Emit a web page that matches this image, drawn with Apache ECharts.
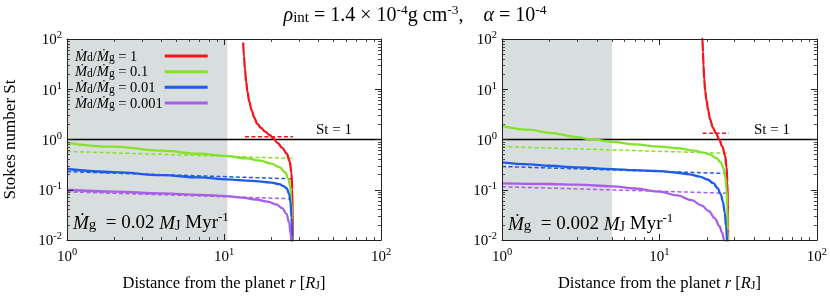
<!DOCTYPE html>
<html>
<head>
<meta charset="utf-8">
<script src="https://cdn.jsdelivr.net/npm/echarts@6/dist/echarts.min.js"></script>
<style>html,body{margin:0;padding:0;background:#fff}#c{width:830px;height:297px}</style>
</head>
<body>
<div id="c"></div>
<script>
// ---------- data ----------
const xMajor = [1, 10, 100];
const xMinor = [2,3,4,5,6,7,8,9,20,30,40,50,60,70,80,90];
const yMajor = [0.01, 0.1, 1, 10, 100];
const yMinor = [0.02,0.03,0.04,0.05,0.06,0.07,0.08,0.09,0.2,0.3,0.4,0.5,0.6,0.7,0.8,0.9,2,3,4,5,6,7,8,9,20,30,40,50,60,70,80,90];
const ratioLabels = ['1', '0.1', '0.01', '0.001'];
const shadeL = [1, 10.5];
const shadeR = [1, 5.0];
const stOneLine = [1, 100];

// left panel: Mg = 0.02 MJ/Myr
const rRedL = [13.25, 13.4, 13.6, 13.85, 14.1, 14.5, 15, 15.6, 16.3, 17.2, 18.3, 19.5, 20.6, 21.9, 23.5, 25.1, 26.2, 26.9, 27.2, 27.35, 27.45];
const stRedL = [85, 45, 25, 14, 9, 5.6, 3.8, 2.7, 2.05, 1.7, 1.43, 1.23, 1.06, 0.86, 0.68, 0.52, 0.37, 0.22, 0.1, 0.03, 0.005];
const rGreenL = [1, 2, 4, 7, 10.4, 14, 17, 20, 22.5, 24.5, 25.7, 26.4, 26.9, 27.1, 27.25];
const stGreenL = [0.86, 0.72, 0.598, 0.52, 0.468, 0.42, 0.38, 0.33, 0.283, 0.224, 0.166, 0.117, 0.055, 0.025, 0.008];
const rBlueL = [1, 2, 4, 7, 10.4, 15, 20, 22.5, 24, 25.1, 26, 26.5, 26.9, 27.15, 27.3];
const stBlueL = [0.259, 0.225, 0.196, 0.176, 0.161, 0.150, 0.139, 0.129, 0.118, 0.106, 0.082, 0.057, 0.028, 0.011, 0.005];
const rPurpleL = [1, 2, 4, 7, 10.4, 13, 16, 19, 21.5, 23.5, 25, 26, 26.6, 27];
const stPurpleL = [0.100, 0.092, 0.0845, 0.079, 0.075, 0.070, 0.064, 0.058, 0.051, 0.043, 0.033, 0.022, 0.013, 0.006];
const rDashRedL = [13.6, 27.5], stDashRedL = [1.14, 1.14];
const rDashL = [1, 27.5];
const stDashGreenL = [0.58, 0.42];
const stDashBlueL = [0.229, 0.165];
const stDashPurpleL = [0.091, 0.066];

// right panel: Mg = 0.002 MJ/Myr
const rRedR = [18.6, 18.75, 18.9, 19.05, 19.25, 19.5, 19.9, 20.4, 21.0, 21.8, 22.8, 23.9, 25.1, 26.1, 26.7, 27.0, 27.2, 27.3];
const stRedR = [150, 100, 55, 30, 16, 9.5, 6, 3.8, 2.5, 1.75, 1.36, 1.03, 0.72, 0.48, 0.28, 0.14, 0.05, 0.005];
const rGreenR = [1, 1.5, 2, 3, 3.6, 5, 7, 10, 13, 16.6, 19, 21, 23, 24.5, 25.5, 26.2, 26.7, 27.0, 27.2, 27.3];
const stGreenR = [1.86, 1.55, 1.36, 1.12, 1.02, 0.90, 0.80, 0.72, 0.67, 0.60, 0.55, 0.50, 0.43, 0.35, 0.27, 0.18, 0.10, 0.045, 0.015, 0.005];
const rBlueR = [1, 1.5, 2, 3, 5, 7, 10, 13, 15.5, 18, 20.2, 22, 23.4, 24.5, 25.3, 26, 26.5, 26.9];
const stBlueR = [0.35, 0.32, 0.30, 0.28, 0.258, 0.246, 0.235, 0.218, 0.203, 0.183, 0.16, 0.135, 0.108, 0.082, 0.058, 0.035, 0.019, 0.008];
const rPurpleR = [1, 2, 3, 5, 7, 10, 13, 16, 18.5, 20.5, 22.5, 24, 25, 25.8, 26.3];
const stPurpleR = [0.134, 0.130, 0.126, 0.117, 0.106, 0.092, 0.077, 0.062, 0.049, 0.038, 0.027, 0.019, 0.014, 0.0098, 0.007];
const rDashRedR = [18.8, 27.7], stDashRedR = [1.33, 1.33];
const rDashR = [1, 27.7];
const stDashGreenR = [0.72, 0.53];
const stDashBlueR = [0.29, 0.21];
const stDashPurpleR = [0.115, 0.085];

// ---------- styling ----------
const F = 'Liberation Serif';
const C = {red: '#f5141b', green: '#84e22a', blue: '#1e5ce6', purple: '#a95ee8'};
const names = ratioLabels.map(v => 'ratio ' + v);

const tickRich = {
  b: {fontFamily: F, fontSize: 15, color: '#000', verticalAlign: 'bottom'},
  s: {fontFamily: F, fontSize: 10.5, color: '#000', verticalAlign: 'bottom', padding: [0, 0, 7, 0]}
};
function powLabel(v) {
  const e = Math.round(Math.log10(v));
  return '{b|10}{s|' + e + '}';
}
const xNameRich = {
  a: {fontFamily: F, fontSize: 16.5, color: '#000', verticalAlign: 'bottom'},
  i: {fontFamily: F, fontSize: 16.5, fontStyle: 'italic', color: '#000', verticalAlign: 'bottom'},
  j: {fontFamily: F, fontSize: 12, color: '#000', verticalAlign: 'bottom'}
};
const xName = '{a|Distance from the planet }{i|r}{a| [}{i|R}{j|J}{a|]}';

function xAxesFor(gi) {
  const base = {gridIndex: gi, type: 'log', logBase: 10, min: 1, max: 100, z: 10, splitLine: {show: false}};
  return [
    Object.assign({}, base, {position: 'bottom',
      axisLine: {show: true, lineStyle: {color: '#222', width: 1}},
      axisTick: {show: true, inside: true, length: 6, customValues: xMajor, lineStyle: {color: '#222'}},
      axisLabel: {show: true, customValues: xMajor, formatter: powLabel, margin: 7, rich: tickRich},
      name: xName, nameLocation: 'middle', nameGap: 35, nameTextStyle: {rich: xNameRich}}),
    Object.assign({}, base, {position: 'top',
      axisLine: {show: true, lineStyle: {color: '#222', width: 1}},
      axisTick: {show: true, inside: true, length: 6, customValues: xMajor, lineStyle: {color: '#222'}},
      axisLabel: {show: false}}),
    Object.assign({}, base, {position: 'bottom',
      axisLine: {show: false},
      axisTick: {show: true, inside: true, length: 3, customValues: xMinor, lineStyle: {color: '#444'}},
      axisLabel: {show: false}}),
    Object.assign({}, base, {position: 'top',
      axisLine: {show: false},
      axisTick: {show: true, inside: true, length: 3, customValues: xMinor, lineStyle: {color: '#444'}},
      axisLabel: {show: false}})
  ];
}
function yAxesFor(gi, withName) {
  const base = {gridIndex: gi, type: 'log', logBase: 10, min: 0.01, max: 100, z: 10, splitLine: {show: false}};
  const main = Object.assign({}, base, {position: 'left',
      axisLine: {show: true, lineStyle: {color: '#222', width: 1}},
      axisTick: {show: true, inside: true, length: 6, customValues: yMajor, lineStyle: {color: '#222'}},
      axisLabel: {show: true, customValues: yMajor, formatter: powLabel, margin: 5, rich: tickRich}});
  if (withName) {
    Object.assign(main, {name: 'Stokes number St', nameLocation: 'middle', nameGap: 48,
      nameTextStyle: {fontFamily: F, fontSize: 17, color: '#000'}});
  }
  return [
    main,
    Object.assign({}, base, {position: 'right',
      axisLine: {show: true, lineStyle: {color: '#222', width: 1}},
      axisTick: {show: true, inside: true, length: 6, customValues: yMajor, lineStyle: {color: '#222'}},
      axisLabel: {show: false}}),
    Object.assign({}, base, {position: 'left',
      axisLine: {show: false},
      axisTick: {show: true, inside: true, length: 3, customValues: yMinor, lineStyle: {color: '#444'}},
      axisLabel: {show: false}}),
    Object.assign({}, base, {position: 'right',
      axisLine: {show: false},
      axisTick: {show: true, inside: true, length: 3, customValues: yMinor, lineStyle: {color: '#444'}},
      axisLabel: {show: false}})
  ];
}

function pairs(rs, sts) { return rs.map((r, i) => [r, sts[i]]); }
function curve(name, rs, sts, color, gi, dashed) {
  return {
    type: 'line', name: name, xAxisIndex: gi * 4, yAxisIndex: gi * 4,
    data: pairs(rs, sts), symbol: 'none', showSymbol: false, silent: true,
    smooth: dashed ? false : 0.4, smoothMonotone: 'x', clip: true,
    lineStyle: {color: color, width: dashed ? 1.5 : 2.3, type: dashed ? [4, 2.5] : 'solid'},
    itemStyle: {color: color}, z: dashed ? 4 : 5
  };
}
function shade(range, gi) {
  return {
    type: 'line', name: 'shade' + gi, xAxisIndex: gi * 4, yAxisIndex: gi * 4, data: [], silent: true, z: 1,
    markArea: {silent: true, itemStyle: {color: '#d8dddd'}, data: [[{xAxis: range[0]}, {xAxis: range[1]}]]}
  };
}
function stOne(gi) {
  return {
    type: 'line', name: 'st1_' + gi, xAxisIndex: gi * 4, yAxisIndex: gi * 4,
    data: stOneLine.map(r => [r, 1]), symbol: 'none', silent: true, z: 3,
    lineStyle: {color: '#000', width: 1.5}
  };
}

const series = [
  shade(shadeL, 0), shade(shadeR, 1), stOne(0), stOne(1),
  curve('dashRedL', rDashRedL, stDashRedL, C.red, 0, true),
  curve('dashGreenL', rDashL, stDashGreenL, C.green, 0, true),
  curve('dashBlueL', rDashL, stDashBlueL, C.blue, 0, true),
  curve('dashPurpleL', rDashL, stDashPurpleL, C.purple, 0, true),
  curve(names[0], rRedL, stRedL, C.red, 0, false),
  curve(names[1], rGreenL, stGreenL, C.green, 0, false),
  curve(names[2], rBlueL, stBlueL, C.blue, 0, false),
  curve(names[3], rPurpleL, stPurpleL, C.purple, 0, false),
  curve('dashRedR', rDashRedR, stDashRedR, C.red, 1, true),
  curve('dashGreenR', rDashR, stDashGreenR, C.green, 1, true),
  curve('dashBlueR', rDashR, stDashBlueR, C.blue, 1, true),
  curve('dashPurpleR', rDashR, stDashPurpleR, C.purple, 1, true),
  curve(names[0], rRedR, stRedR, C.red, 1, false),
  curve(names[1], rGreenR, stGreenR, C.green, 1, false),
  curve(names[2], rBlueR, stBlueR, C.blue, 1, false),
  curve(names[3], rPurpleR, stPurpleR, C.purple, 1, false)
];

const LH = 16.7;
const PAD = [6, 0, 0, 0];
const legendRich = {
  m: {fontFamily: F, fontSize: 14.5, fontStyle: 'italic', fontWeight: 'normal', color: '#000', verticalAlign: 'bottom', align: 'left', lineHeight: LH, padding: PAD},
  s: {fontFamily: F, fontSize: 11.5, fontWeight: 'normal', color: '#000', verticalAlign: 'bottom', align: 'left', lineHeight: LH, padding: PAD},
  n: {fontFamily: F, fontSize: 14.5, fontWeight: 'normal', color: '#000', verticalAlign: 'bottom', align: 'left', lineHeight: LH, padding: PAD},
  e: {fontFamily: F, fontSize: 14.5, fontWeight: 'normal', color: '#000', verticalAlign: 'bottom', align: 'left', lineHeight: LH, padding: PAD, width: 45}
};

const annRich = {
  m: {fontFamily: F, fontSize: 19, fontStyle: 'italic', fill: '#000', verticalAlign: 'bottom'},
  g: {fontFamily: F, fontSize: 15, fill: '#000', verticalAlign: 'bottom'},
  n: {fontFamily: F, fontSize: 19, fill: '#000', verticalAlign: 'bottom'},
  j: {fontFamily: F, fontSize: 14, fill: '#000', verticalAlign: 'bottom'},
  s: {fontFamily: F, fontSize: 13, fill: '#000', verticalAlign: 'bottom', padding: [0, 0, 9, 0]}
};
function annText(val) {
  return '{m|\u1E40}{g|g}{n|  = ' + val + ' }{m|M}{j|J}{n| Myr}{s|-1}';
}

const TF = 20;
const titleRich = {
  i: {fontFamily: F, fontSize: TF, fontStyle: 'italic', fontWeight: 'normal', color: '#000', verticalAlign: 'bottom'},
  r: {fontFamily: F, fontSize: 15, fontWeight: 'normal', color: '#000', verticalAlign: 'bottom'},
  n: {fontFamily: F, fontSize: TF, fontWeight: 'normal', color: '#000', verticalAlign: 'bottom'},
  s: {fontFamily: F, fontSize: 13.5, fontWeight: 'normal', color: '#000', verticalAlign: 'bottom', padding: [0, 0, 9, 0]}
};

const option = {
  animation: false,
  backgroundColor: '#fff',
  title: {
    left: 'center', top: -2,
    text: '{i|\u03C1}{r|int}{n| = 1.4 \u00D7 10}{s|-4}{n|g cm}{s|-3}{n|,    }{i|\u03B1}{n| = 10}{s|-4}',
    textStyle: {fontWeight: 'normal', rich: titleRich}
  },
  grid: [
    {left: 67, top: 39, width: 314, height: 201},
    {left: 502, top: 39, width: 316, height: 201}
  ],
  xAxis: xAxesFor(0).concat(xAxesFor(1)),
  yAxis: yAxesFor(0, true).concat(yAxesFor(1, false)),
  legend: {
    data: names, orient: 'vertical', left: 70, top: 38.3, align: 'right',
    icon: 'rect', itemWidth: 43, itemHeight: 3, itemGap: -5.3, selectedMode: false,
    formatter: function (name) {
      const v = name.replace('ratio ', '');
      return '{m|\u1E40}{s|d}{n|/}{m|\u1E40}{s|g}{e| = ' + v + '}';
    },
    textStyle: {fontWeight: 'normal', rich: legendRich}
  },
  graphic: [
    {type: 'text', x: 73, y: 222, silent: true, z: 20,
      style: {text: annText('0.02'), rich: annRich, align: 'left', verticalAlign: 'middle', fill: '#000'}},
    {type: 'text', x: 508, y: 223, silent: true, z: 20,
      style: {text: annText('0.002'), rich: annRich, align: 'left', verticalAlign: 'middle', fill: '#000'}},
    {type: 'text', x: 334, y: 130, silent: true, z: 20,
      style: {text: 'St = 1', font: '15px "Liberation Serif"', fill: '#000', align: 'center', verticalAlign: 'middle'}},
    {type: 'text', x: 772, y: 130, silent: true, z: 20,
      style: {text: 'St = 1', font: '15px "Liberation Serif"', fill: '#000', align: 'center', verticalAlign: 'middle'}}
  ],
  series: series
};

const chart = echarts.init(document.getElementById('c'), null, {renderer: 'canvas'});
chart.setOption(option);
</script>
</body>
</html>
